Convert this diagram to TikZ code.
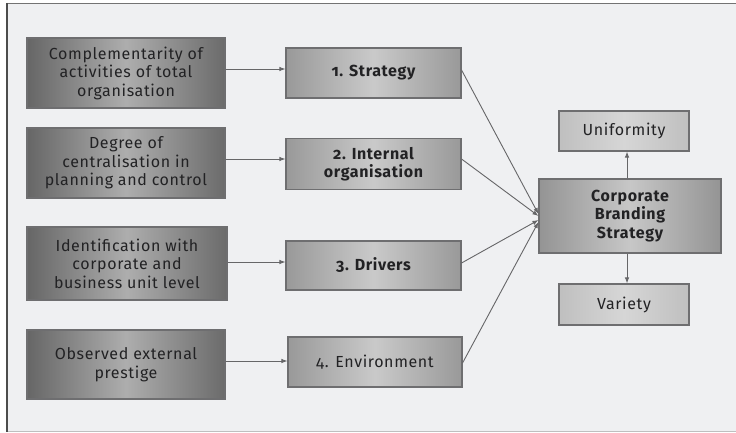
\documentclass[tikz,border=0pt]{standalone}
\usepackage{fontspec}
\setmainfont{Fira Sans}[Numbers=OldStyle, LetterSpace=4]
\usetikzlibrary{arrows.meta}
\definecolor{panel}{HTML}{EFF0F2}
\definecolor{edge}{HTML}{6E6E70}
\definecolor{wire}{HTML}{666668}
\definecolor{ink}{HTML}{222224}
\newcommand{\boxfont}{\fontsize{16}{18.5}\selectfont}
\tikzset{
  x=1pt, y=-1pt,
  box/.style={rectangle, draw=edge, line width=1.1pt, align=center, text=ink,
    font=\boxfont, inner sep=2pt},
  strong/.style={font=\boxfont\bfseries},
  factor/.style={box, left color=black!60, right color=black!58, middle color=black!32},
  dimension/.style={box, left color=black!40, right color=black!40, middle color=black!21},
  core/.style={box, left color=black!42, right color=black!42, middle color=black!22},
  outcome/.style={box, left color=black!25, right color=black!25, middle color=black!16},
  link/.style={draw=wire, line width=0.9pt, -{Latex[length=6pt,width=4.5pt]}}
}
\begin{document}
\begin{tikzpicture}
\useasboundingbox (0,0) rectangle (736,433);
% panel
\fill[panel] (7,4) rectangle (740,432);
\draw[black!25, line width=1pt] (7,431.5) -- (740,431.5);
\draw[black!55, line width=1.6pt] (7,3.5) -- (740,3.5);
\draw[black!70, line width=2pt] (7,3) -- (7,432);

% influencing factors
\node[factor, minimum width=198pt, minimum height=70pt] (f1) at (126,73) {Complementarity of\\activities of total\\organisation};
\node[factor, minimum width=198pt, minimum height=70pt] (f2) at (126,163) {Degree of\\centralisation in\\planning and control};
\node[factor, minimum width=200pt, minimum height=73pt] (f3) at (127,263.5) {Identification with\\corporate and\\business unit level};
\node[factor, minimum width=198pt, minimum height=69pt] (f4) at (126,364.5) {Observed external\\prestige};

% dimensions
\node[dimension, strong, minimum width=175pt, minimum height=50pt] (d1) at (373.5,73) {1. Strategy};
\node[dimension, strong, minimum width=175pt, minimum height=51pt] (d2) at (373.5,164) {2. Internal\\organisation};
\node[dimension, strong, minimum width=175pt, minimum height=49pt] (d3) at (373.5,265.5) {3. Drivers};
\node[dimension, minimum width=174pt, minimum height=50pt] (d4) at (375,362) {4. Environment};

% strategy and its outcomes
\node[core, strong, minimum width=182pt, minimum height=74pt] (cbs) at (630,216) {Corporate\\Branding\\Strategy};
\node[outcome, minimum width=130pt, minimum height=40pt] (uni) at (624,131) {Uniformity};
\node[outcome, minimum width=130pt, minimum height=41pt] (var) at (624,304.5) {Variety};

% factor -> dimension
\foreach \i/\dy in {1/4,2/4,3/1.5,4/3.5}
  \draw[link] ([yshift=\dy pt]f\i.east) -- ([yshift=\dy pt]f\i.east -| d\i.west);

% dimension -> strategy
\draw[link] ([yshift=3pt]d1.east) -- ([yshift=2pt]cbs.west);
\draw[link] ([yshift=5pt]d2.east) -- ([yshift=0pt]cbs.west);
\draw[link] ([yshift=2.5pt]d3.east) -- ([yshift=-4pt]cbs.west);
\draw[link] ([yshift=-1pt]d4.east) -- ([yshift=-6pt]cbs.west);

% strategy -> outcomes
\draw[link] ([xshift=-3pt]cbs.north) -- ([xshift=-3pt]cbs.north |- uni.south);
\draw[link] ([xshift=-3pt]cbs.south) -- ([xshift=-3pt]cbs.south |- var.north);
\end{tikzpicture}
\end{document}
